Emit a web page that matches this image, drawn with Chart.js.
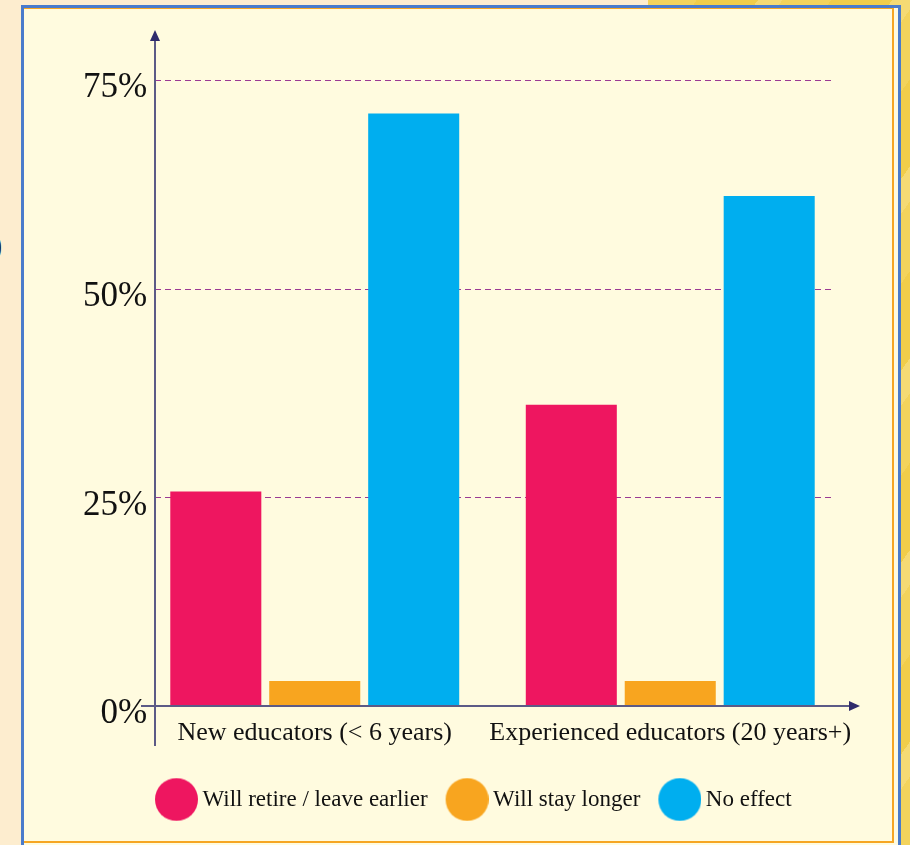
<!DOCTYPE html>
<html>
<head>
<meta charset="utf-8">
<script src="https://cdn.jsdelivr.net/npm/chart.js@4"></script>
<style>
  html, body { margin: 0; padding: 0; }
  body { width: 910px; height: 845px; overflow: hidden; position: relative; background: #fdedcf; }
  #gold {
    position: absolute; left: 648px; top: 0; right: 0; bottom: 0;
    background: repeating-linear-gradient(125deg, #f3d35c 0 40px, #f1cd4a 40px 90px, #f5da74 90px 110px);
  }
  #frame {
    position: absolute; left: 21px; top: 5px; width: 874px; height: 860px;
    border: 3px solid #4a7bcb; background: #fffbdf;
  }
  #inner {
    position: absolute; left: 0; top: 0; right: 4px; height: 832px;
    border-top: 1px solid #f6a623; border-right: 2px solid #f6a623; border-bottom: 2px solid #f6a623;
  }
  #cut { position: absolute; left: -9px; top: 226px; font: 34px "Liberation Serif", serif; color: #111; }
  #chart { position: absolute; left: 0; top: 0; }
</style>
</head>
<body>
<div id="gold"></div>
<div id="frame"><div id="inner"></div></div>
<span id="cut">)</span>
<canvas id="chart" width="910" height="845"></canvas>
<script>
const categories = ['New educators (< 6 years)', 'Experienced educators (20 years+)'];
const seriesNames = ['Will retire / leave earlier', 'Will stay longer', 'No effect'];
const retireEarlier = [25.7, 36.1];
const stayLonger = [3, 3];
const noEffect = [71, 61.1];
const yTicks = [0, 25, 50, 75];
const colors = ['#ee1660', '#f8a51f', '#00aeef'];

// legend marker: round dot, a bit right of the box centre
function dot(color) {
  const c = document.createElement('canvas');
  c.width = 54;
  c.height = 44;
  const g = c.getContext('2d');
  g.fillStyle = color;
  g.beginPath();
  g.arc(32.5, 22, 21.5, 0, Math.PI * 2);
  g.fill();
  return c;
}

const axesPlugin = {
  id: 'axes',
  beforeDatasetsDraw(chart) {
    const { ctx, chartArea, scales } = chart;
    const x0 = chartArea.left + 18;
    ctx.save();
    ctx.strokeStyle = '#9b3a93';
    ctx.lineWidth = 1;
    ctx.setLineDash([6, 4]);
    yTicks.forEach(v => {
      if (v === 0) return;
      const py = Math.round(scales.y.getPixelForValue(v)) + 0.5;
      ctx.beginPath();
      ctx.moveTo(x0, py);
      ctx.lineTo(chartArea.right - 15, py);
      ctx.stroke();
    });
    ctx.restore();
  },
  afterDatasetsDraw(chart) {
    const { ctx, chartArea, scales } = chart;
    const x0 = chartArea.left + 18;
    const y0 = scales.y.getPixelForValue(0);
    ctx.save();
    ctx.strokeStyle = '#5c5a86';
    ctx.lineWidth = 2;
    // y axis
    ctx.beginPath();
    ctx.moveTo(x0, y0 + 40);
    ctx.lineTo(x0, chartArea.top + 8);
    ctx.stroke();
    // x axis
    ctx.beginPath();
    ctx.moveTo(chartArea.left + 4, y0);
    ctx.lineTo(chartArea.right + 4, y0);
    ctx.stroke();
    ctx.fillStyle = '#2f2b6c';
    ctx.beginPath();
    ctx.moveTo(x0, chartArea.top);
    ctx.lineTo(x0 - 5, chartArea.top + 11);
    ctx.lineTo(x0 + 5, chartArea.top + 11);
    ctx.closePath();
    ctx.fill();
    ctx.beginPath();
    ctx.moveTo(chartArea.right + 12, y0);
    ctx.lineTo(chartArea.right + 1, y0 - 5);
    ctx.lineTo(chartArea.right + 1, y0 + 5);
    ctx.closePath();
    ctx.fill();
    ctx.restore();
  }
};

Chart.defaults.font.family = '"Liberation Serif", "Times New Roman", serif';
Chart.defaults.color = '#111';

const ctx = document.getElementById('chart').getContext('2d');
const myChart = new Chart(ctx, {
  type: 'bar',
  data: {
    labels: categories,
    datasets: [retireEarlier, stayLonger, noEffect].map((d, i) => ({
      label: seriesNames[i],
      data: d,
      backgroundColor: colors[i],
      pointStyle: dot(colors[i]),
      categoryPercentage: 0.835,
      barPercentage: 0.92
    }))
  },
  options: {
    responsive: false,
    animation: false,
    devicePixelRatio: 1,
    layout: { padding: { left: 0, right: 62, top: 30, bottom: 24 } },
    plugins: {
      tooltip: { enabled: false },
      legend: {
        position: 'bottom',
        align: 'start',
        fullSize: false,
        labels: {
          usePointStyle: true,
          pointStyleWidth: 40,
          padding: 14,
          font: { size: 23 },
          color: '#111'
        }
      }
    },
    scales: {
      x: {
        grid: { display: false },
        border: { display: false },
        ticks: { font: { size: 26 }, padding: 4, color: '#111', maxRotation: 0, minRotation: 0, autoSkip: false },
        afterFit: s => { s.height = 68; s.paddingLeft = 0; s.paddingRight = 0; }
      },
      y: {
        min: 0,
        max: 81,
        grid: { display: false },
        border: { display: false },
        afterFit: s => { s.width = 137; },
        afterBuildTicks: s => { s.ticks = yTicks.map(v => ({ value: v })); },
        ticks: {
          font: { size: 35 },
          mirror: true,
          crossAlign: 'far',
          padding: -54,
          labelOffset: 8,
          color: '#111',
          callback: v => v + '%'
        }
      }
    }
  },
  plugins: [axesPlugin]
});
</script>
</body>
</html>
